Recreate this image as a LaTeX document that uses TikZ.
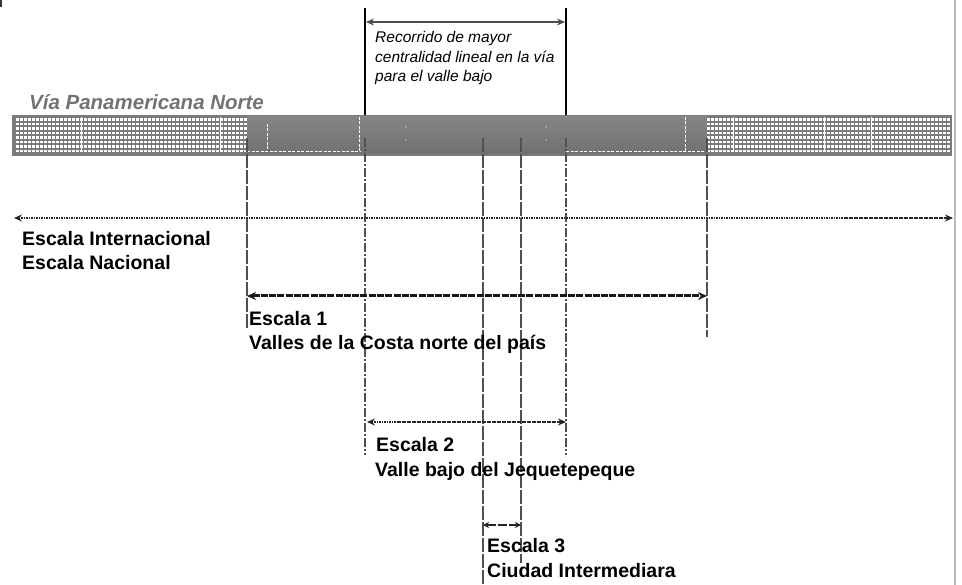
\documentclass[tikz,border=0pt]{standalone}
\usepackage{fontspec}
\setmainfont{Liberation Sans}
\usetikzlibrary{arrows.meta}
\definecolor{bandgray}{HTML}{7A7A7A}
\definecolor{linegray}{HTML}{505050}
\definecolor{arrgray}{HTML}{262626}
\tikzset{
  lbl/.style={anchor=base west, inner sep=0pt, font=\fontsize{19.5}{24.5}\selectfont\bfseries, align=left},
  itlbl/.style={anchor=base west, inner sep=0pt, font=\fontsize{15.5}{19.5}\selectfont\itshape, align=left},
  vline/.style={linegray, line width=1.7pt, dash pattern=on 14pt off 2pt},
  vdash/.style={linegray, line width=1.7pt, dash pattern=on 9pt off 2pt on 2pt off 2pt},
  topline/.style={black, line width=2.2pt},
  Tp/.tip={Stealth[length=8pt,width=7pt]},
  Tb/.tip={Stealth[length=9pt,width=8pt]},
  Ts/.tip={Stealth[length=6pt,width=6pt]},
  hatchrow/.style={white, line width=2.2pt, dash pattern=on 2.6pt off 1.4pt},
  whitedash/.style={white, line width=0.9pt, dash pattern=on 3pt off 1.5pt},
}
\begin{document}
\begin{tikzpicture}[x=1pt,y=-1pt]
\useasboundingbox (0,0) rectangle (962,585);
% stray mark and right border
\draw[black!80, line width=1.8pt] (0.8,0) -- (0.8,7);
\draw[gray!55, line width=1.5pt] (955,0) -- (955,585);
% road band
\fill[bandgray] (12,115) rectangle (952,156);
\shade[top color=black!48, bottom color=black!56] (247,117) rectangle (707,154);
\foreach \y in {119.5,124,...,152} {
  \draw[hatchrow] (16,\y) -- (247,\y);
  \draw[hatchrow] (707,\y) -- (950,\y);
}
\foreach \x in {81,220,733,824,871} \draw[white, line width=1pt] (\x,117) -- (\x,150);
\draw[whitedash] (247,151) -- (360,151);
\draw[whitedash] (566,151) -- (707,151);
\draw[whitedash] (267,124) -- (267,150);
\draw[whitedash] (359,117) -- (359,153);
\draw[whitedash] (685,117) -- (685,151);
\foreach \x in {406,546} { \fill[white] (\x,127) circle (0.7); \fill[white] (\x,140) circle (0.7); }
\node[anchor=base west, inner sep=0pt, text=black!55, font=\fontsize{20.5}{22}\selectfont\bfseries\itshape] (via) at (29,110) {Vía Panamericana Norte};
% coordinates
\coordinate (a1) at (247,138); \coordinate (a2) at (247,330);
\coordinate (b0) at (365,8);   \coordinate (b1) at (365,115);
\coordinate (b2) at (365,138); \coordinate (b3) at (365,455);
\coordinate (c1) at (483,138); \coordinate (c2) at (483,585);
\coordinate (d1) at (521,138); \coordinate (d2) at (521,563);
\coordinate (e0) at (566,8);   \coordinate (e1) at (566,115);
\coordinate (e2) at (566,138); \coordinate (e3) at (566,455);
\coordinate (f1) at (707,138); \coordinate (f2) at (707,337);
% vertical lines
\draw[topline] (b0) -- (b1);
\draw[topline] (e0) -- (e1);
\draw[vline] (a1) -- (a2);
\draw[vdash] (b2) -- (b3);
\draw[vline] (c1) -- (c2);
\draw[vline] (d1) -- (d2);
\draw[vdash] (e2) -- (e3);
\draw[vline] (f1) -- (f2);
% arrows
\coordinate (t1) at (366,22); \coordinate (t2) at (565,22);
\draw[black!70, line width=2pt, Tp-Tp] (t1) -- (t2);
\coordinate (i1) at (14,218); \coordinate (i2) at (953,218);
\draw[arrgray, line width=1.5pt, dash pattern=on 1.6pt off 0.9pt, Tp-Tp] (i1) -- (i2);
\coordinate (s1a) at (247,296); \coordinate (s1b) at (707,296);
\draw[black!90, line width=3pt, dash pattern=on 7pt off 1.3pt, Tb-Tb] (s1a) -- (s1b);
\coordinate (s2a) at (367,422); \coordinate (s2b) at (566,422);
\draw[arrgray, line width=1.8pt, dash pattern=on 1.6pt off 0.9pt, Tp-Tp] (s2a) -- (s2b);
\coordinate (s3a) at (483,525); \coordinate (s3b) at (521,525);
\draw[arrgray, line width=1.8pt, dash pattern=on 9pt off 2pt, Ts-Ts] (s3a) -- (s3b);
% labels (base anchor = baseline of the last line)
\node[itlbl] (rec) at (375,82) {Recorrido de mayor\\centralidad lineal en la vía\\para el valle bajo};
\node[lbl] (int) at (22,270) {Escala Internacional\\Escala Nacional};
\node[lbl] (e1l) at (249,350) {Escala 1\\Valles de la Costa norte del país};
\node[lbl] (e2l) at (375,476) {\hspace*{1pt}Escala 2\\Valle bajo del Jequetepeque};
\node[lbl] (e3l) at (487,577) {Escala 3\\Ciudad Intermediara};
\end{tikzpicture}
\end{document}
